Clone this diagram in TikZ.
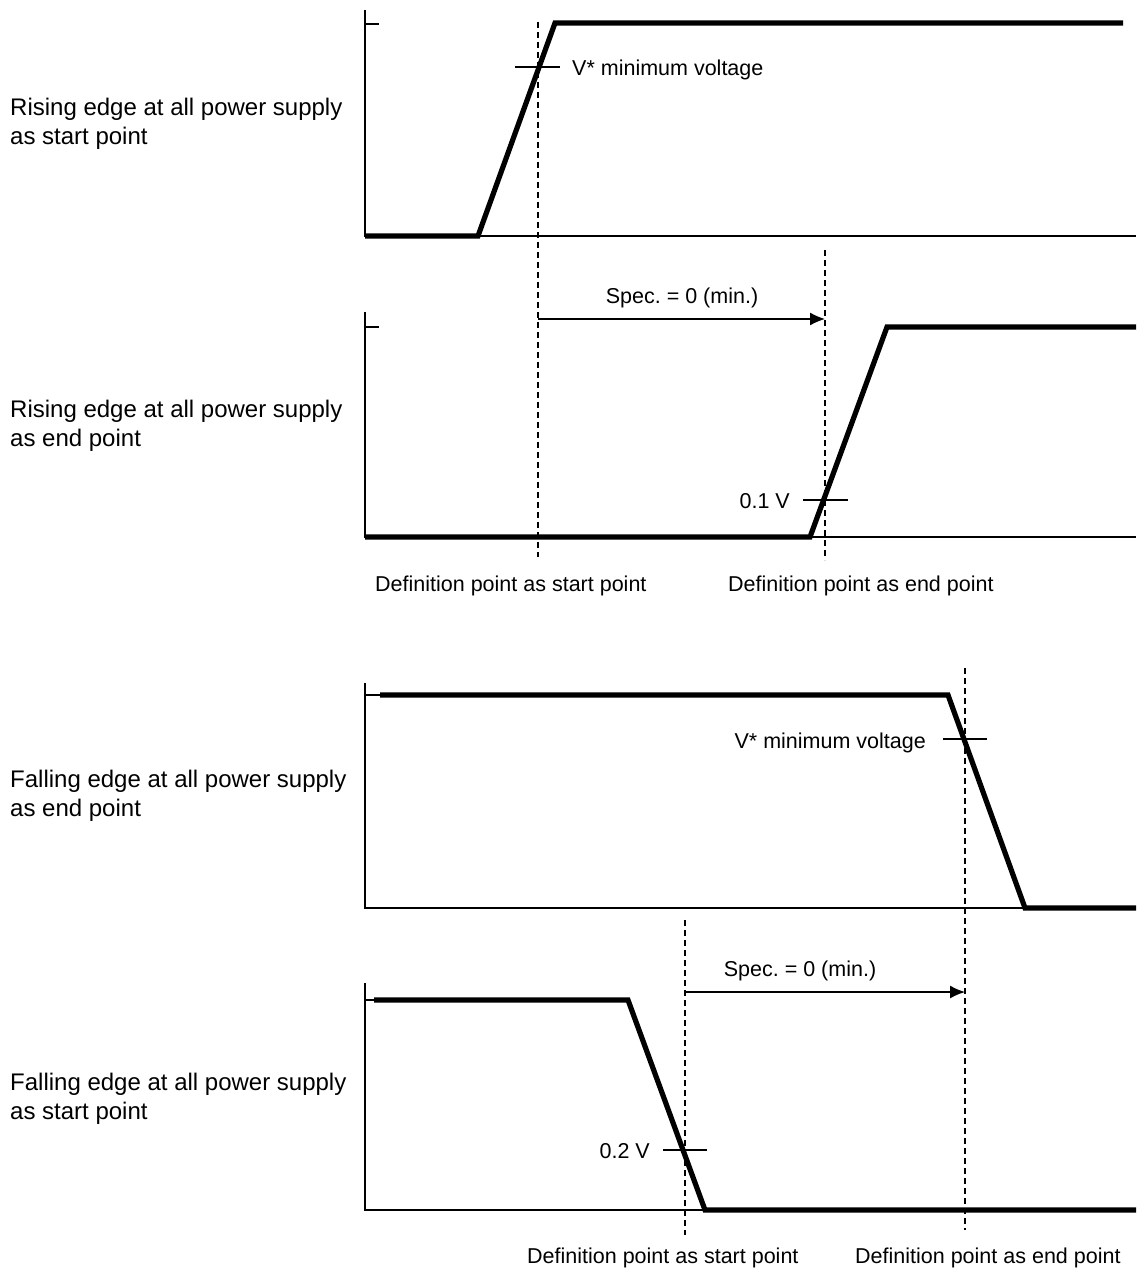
\documentclass[tikz,border=0pt]{standalone}
\usepackage{fontspec}
\setmainfont{Liberation Sans}
\usetikzlibrary{arrows.meta}
\frenchspacing
\begin{document}
\begin{tikzpicture}[x=1pt,y=-1pt,
  axis/.style={line width=1.6pt},
  sig/.style={line width=5.2pt,line join=miter},
  thin/.style={line width=1.3pt},
  dline/.style={line width=1.2pt,dash pattern=on 6pt off 4pt},
  arr/.style={line width=1.3pt,-{Latex[length=15pt,width=13pt]}},
  side/.style={anchor=west,align=left,font=\fontsize{24}{29}\selectfont,inner sep=0pt},
  lbl/.style={font=\fontsize{21.5}{24}\selectfont,inner sep=0pt}]
\useasboundingbox (0,0) rectangle (1136,1271);

% ---------- Panel 1 ----------
\node[side] (t1) at (10,124) {Rising edge at all power supply\\as start point};
\draw[axis] (365,10) -- (365,236) -- (1136,236);
\draw[thin] (365,24) -- (379,24);
\draw[sig] (365,236) -- (478,236) -- (555,23) -- (1123,23);
\draw[thin] (515,67) -- (560,67);
\node[lbl,anchor=west] (v1) at (572,70) {V* minimum voltage};

% ---------- Panel 2 ----------
\node[side] (t2) at (10,426) {Rising edge at all power supply\\as end point};
\draw[axis] (365,312) -- (365,537) -- (1136,537);
\draw[thin] (365,327) -- (379,327);
\draw[sig] (365,537) -- (810,537) -- (887,327) -- (1136,327);
\draw[thin] (803,500) -- (848,500);
\node[lbl,anchor=east] (v01) at (790,501) {0.1 V};

% dashed lines and arrow (top)
\coordinate (d1t) at (538,22);
\coordinate (d1b) at (538,557);
\coordinate (d2t) at (825,250);
\coordinate (d2b) at (825,560);
\draw[dline] (d1t) -- (d1b);
\draw[dline] (d2t) -- (d2b);
\coordinate (a1s) at (538,319);
\coordinate (a1e) at (825,319);
\draw[arr] (a1s) -- (a1e);
\node[lbl] (s1) at (682,298) {Spec. = 0 (min.)};
\node[lbl,anchor=west] (dp1) at (375,586) {Definition point as start point};
\node[lbl,anchor=west] (dp2) at (728,586) {Definition point as end point};

% ---------- Panel 3 ----------
\node[side] (t3) at (10,796) {Falling edge at all power supply\\as end point};
\draw[axis] (365,683) -- (365,908) -- (1136,908);
\draw[thin] (365,695) -- (380,695);
\draw[sig] (380,695) -- (948,695) -- (1025,908) -- (1136,908);
\draw[thin] (943,739) -- (987,739);
\node[lbl,anchor=east] (v3) at (926,743) {V* minimum voltage};

% ---------- Panel 4 ----------
\node[side] (t4) at (10,1099) {Falling edge at all power supply\\as start point};
\draw[axis] (365,983) -- (365,1210) -- (1136,1210);
\draw[thin] (365,1000) -- (374,1000);
\draw[sig] (374,1000) -- (628,1000) -- (705,1210) -- (1136,1210);
\draw[thin] (663,1150) -- (707,1150);
\node[lbl,anchor=east] (v02) at (650,1151) {0.2 V};

% dashed lines and arrow (bottom)
\coordinate (d3t) at (965,668);
\coordinate (d3b) at (965,1230);
\coordinate (d4t) at (685,920);
\coordinate (d4b) at (685,1235);
\draw[dline] (d3t) -- (d3b);
\draw[dline] (d4t) -- (d4b);
\coordinate (a2s) at (685,992);
\coordinate (a2e) at (965,992);
\draw[arr] (a2s) -- (a2e);
\node[lbl] (s2) at (800,971) {Spec. = 0 (min.)};
\node[lbl,anchor=west] (dp3) at (527,1258) {Definition point as start point};
\node[lbl,anchor=west] (dp4) at (855,1258) {Definition point as end point};
\end{tikzpicture}
\end{document}
